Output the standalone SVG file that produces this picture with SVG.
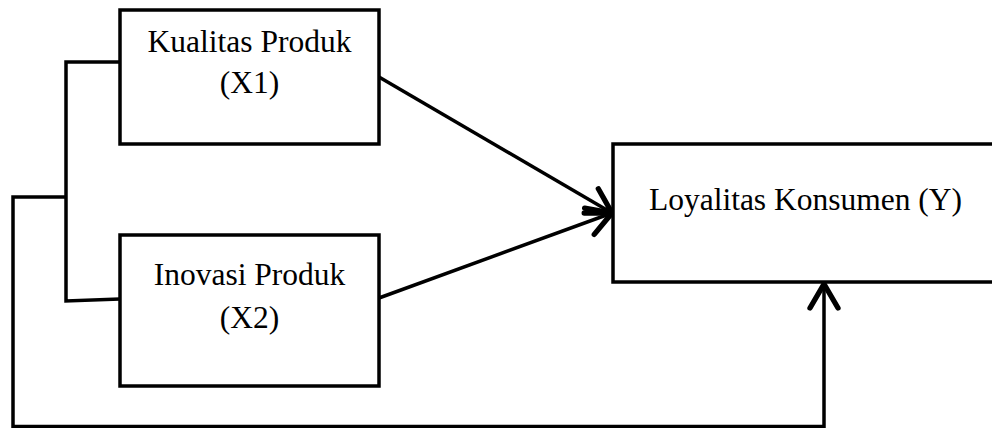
<svg xmlns="http://www.w3.org/2000/svg" width="992" height="428" viewBox="0 0 992 428">
  <style>
    .box { fill: #ffffff; stroke: #000000; stroke-width: 3.5; }
    .lbl { font-family: "Liberation Serif", "Times New Roman", serif; font-size: 31.5px; fill: #000000; text-anchor: middle; }
    .conn { fill: none; stroke: #000000; stroke-width: 3.5; stroke-linejoin: miter; }
  </style>
  <defs>
    <marker id="arrow" markerUnits="userSpaceOnUse" markerWidth="40" markerHeight="40" refX="0" refY="0" orient="auto" viewBox="-25 -15 30 30" overflow="visible">
      <path d="M-18,-10.5 L0,0 L-18,10.5" fill="none" stroke="#000000" stroke-width="4" stroke-linecap="round" stroke-linejoin="miter"/>
    </marker>
  </defs>
  <rect x="0" y="0" width="992" height="428" fill="#ffffff"/>

  <g id="connectors">
    <path class="conn" d="M120,62 L66,62 L66,301 L120,299"/>
    <path class="conn" d="M66,197 L13,197 L13,426.5 L824,426.5 L824,284" marker-end="url(#arrow)"/>
    <path class="conn" d="M379,77 L612,213" marker-end="url(#arrow)"/>
    <path class="conn" d="M379,298 L612,213" marker-end="url(#arrow)"/>
  </g>

  <g id="node-x1">
    <rect class="box" x="120" y="10" width="259" height="134"/>
    <text class="lbl" x="249.5" y="51.5">Kualitas Produk</text>
    <text class="lbl" x="249.5" y="93">(X1)</text>
  </g>

  <g id="node-x2">
    <rect class="box" x="120" y="235" width="259" height="151"/>
    <text class="lbl" x="249.5" y="285">Inovasi Produk</text>
    <text class="lbl" x="249.5" y="328">(X2)</text>
  </g>

  <g id="node-y">
    <rect class="box" x="613" y="144" width="400" height="138"/>
    <text class="lbl" x="805.5" y="209.5">Loyalitas Konsumen (Y)</text>
  </g>
</svg>
